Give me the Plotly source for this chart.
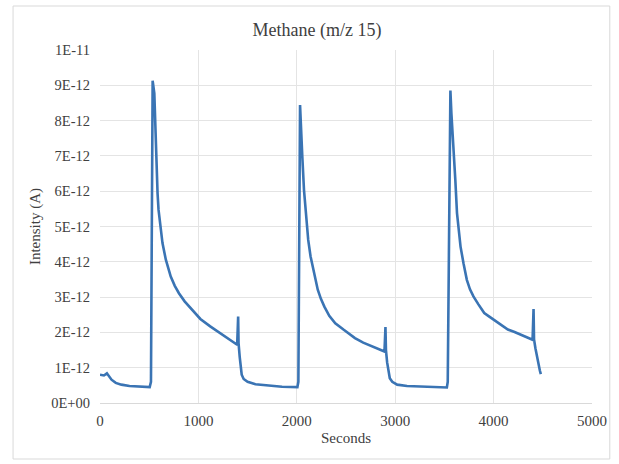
import plotly.graph_objects as go

# Data (time in s, intensity in A)
seconds = [0, 40, 70, 85, 117, 160, 217, 300, 400, 505, 518,
           535, 552, 562, 572, 585, 595, 612, 635, 669, 719, 760, 802, 860, 936, 1020, 1120,
           1250, 1320, 1394,
           1404, 1408, 1420, 1430, 1440, 1460, 1500, 1580, 1700, 1850, 2006, 2016,
           2033, 2039, 2056, 2073, 2100, 2116, 2140, 2173, 2213, 2245, 2280, 2330, 2391, 2474,
           2591, 2675, 2780, 2891,
           2901, 2906, 2918, 2930, 2945, 2970, 3020, 3120, 3300, 3525, 3534,
           3561, 3571, 3594, 3611, 3628, 3644, 3664, 3694, 3728, 3760, 3795, 3844, 3905, 3960,
           4012, 4080, 4145, 4213, 4300, 4396,
           4406, 4411, 4425, 4440, 4455, 4470, 4480]
intensity = [0.80e-12, 0.78e-12, 0.84e-12, 0.78e-12, 0.66e-12, 0.57e-12, 0.52e-12, 0.48e-12,
             0.46e-12, 0.45e-12, 0.60e-12,
             9.13e-12, 8.77e-12, 7.83e-12, 6.89e-12, 5.94e-12, 5.47e-12, 5.00e-12, 4.53e-12,
             4.06e-12, 3.58e-12, 3.32e-12, 3.11e-12, 2.88e-12, 2.64e-12, 2.38e-12, 2.17e-12,
             1.92e-12, 1.79e-12, 1.65e-12,
             2.45e-12, 1.70e-12, 1.30e-12, 0.98e-12, 0.80e-12, 0.68e-12, 0.60e-12, 0.53e-12,
             0.49e-12, 0.46e-12, 0.45e-12, 0.60e-12,
             8.44e-12, 7.93e-12, 6.98e-12, 6.04e-12, 5.09e-12, 4.62e-12, 4.15e-12, 3.68e-12,
             3.21e-12, 2.95e-12, 2.73e-12, 2.47e-12, 2.26e-12, 2.08e-12,
             1.84e-12, 1.71e-12, 1.58e-12, 1.46e-12,
             2.15e-12, 1.50e-12, 1.15e-12, 0.88e-12, 0.70e-12, 0.60e-12, 0.52e-12, 0.48e-12,
             0.46e-12, 0.44e-12, 0.60e-12,
             8.85e-12, 8.21e-12, 7.26e-12, 6.32e-12, 5.38e-12, 4.91e-12, 4.43e-12, 3.96e-12,
             3.49e-12, 3.22e-12, 3.02e-12, 2.80e-12, 2.55e-12, 2.44e-12,
             2.34e-12, 2.20e-12, 2.08e-12, 2.01e-12, 1.90e-12, 1.79e-12,
             2.66e-12, 1.80e-12, 1.55e-12, 1.30e-12, 1.08e-12, 0.92e-12, 0.82e-12]

y_tickvals = [0, 1e-12, 2e-12, 3e-12, 4e-12, 5e-12, 6e-12, 7e-12, 8e-12, 9e-12, 1e-11]
y_ticktext = ["0E+00", "1E-12", "2E-12", "3E-12", "4E-12", "5E-12", "6E-12", "7E-12",
              "8E-12", "9E-12", "1E-11"]
x_tickvals = [0, 1000, 2000, 3000, 4000, 5000]

FONT = "Liberation Serif, Times New Roman, serif"
TEXT = "#404040"
GRID = "#e4e4e4"

fig = go.Figure()
fig.add_trace(go.Scatter(
    x=seconds, y=intensity, mode="lines",
    line=dict(color="#3a74b4", width=2.6),
    showlegend=False,
))

fig.update_layout(
    width=619, height=464,
    margin=dict(l=100, r=21, t=50, b=61),
    paper_bgcolor="white", plot_bgcolor="white",
    font=dict(family=FONT, color=TEXT, size=15),
    title=dict(text="Methane (m/z 15)", x=0.512, xref="container", xanchor="center",
               y=1 - 30 / 464, yref="container", yanchor="middle",
               font=dict(family=FONT, size=18, color=TEXT)),
    xaxis=dict(
        range=[0, 5000], tickvals=x_tickvals, ticktext=[str(v) for v in x_tickvals],
        showgrid=True, gridcolor=GRID, gridwidth=1,
        zeroline=False, showline=True, linecolor="#d9d9d9", linewidth=1,
        ticks="", ticklabelstandoff=4,
        tickfont=dict(family=FONT, size=15, color=TEXT),
        title=dict(text="Seconds", standoff=4, font=dict(family=FONT, size=15, color=TEXT)),
    ),
    yaxis=dict(
        range=[0, 1e-11], tickvals=y_tickvals, ticktext=y_ticktext,
        showgrid=True, gridcolor=GRID, gridwidth=1,
        zeroline=False, showline=False,
        ticks="", ticklabelstandoff=9,
        tickfont=dict(family=FONT, size=14.5, color=TEXT),
        title=dict(text="Intensity (A)", standoff=6, font=dict(family=FONT, size=15, color=TEXT)),
    ),
    shapes=[dict(
        type="rect", xref="paper", yref="paper",
        x0=(12 - 100) / 498, x1=(616 - 100) / 498,
        y0=(403 - 459) / 353, y1=(403 - 6) / 353,
        line=dict(color="#d9d9d9", width=1), fillcolor="rgba(0,0,0,0)", layer="below",
    )],
)

fig.write_html("out.html")
